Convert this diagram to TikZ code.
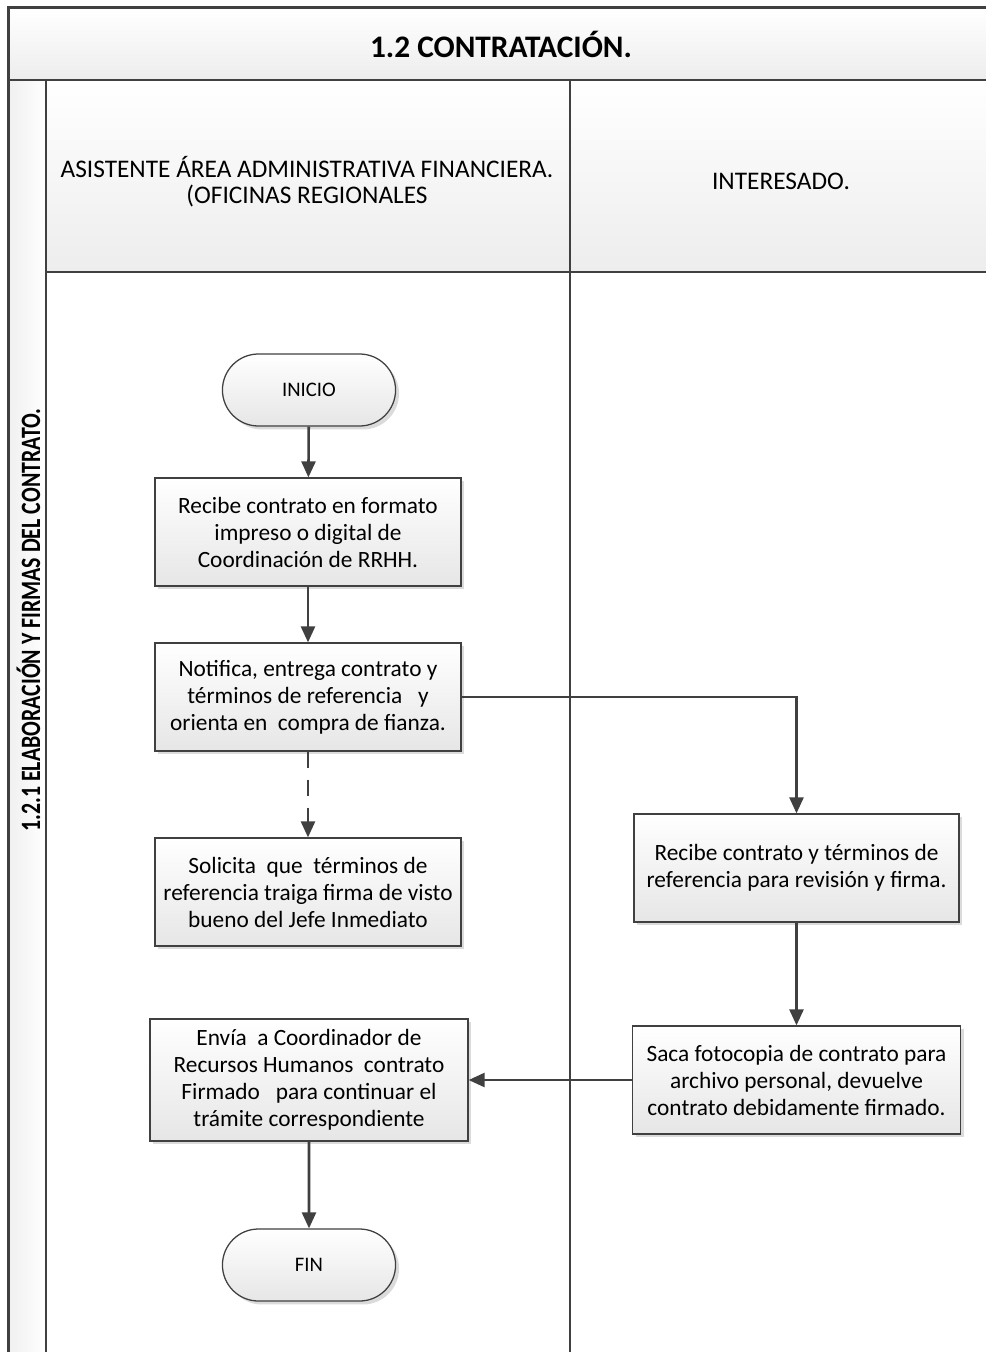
\documentclass[tikz,border=0pt]{standalone}
\usepackage{fontspec}
\setmainfont{Carlito}
\usetikzlibrary{shapes.misc,shadows,arrows.meta}

\definecolor{ink}{HTML}{404040}
\definecolor{boxlo}{HTML}{E6E6E6}
\definecolor{bandlo}{HTML}{EDEDED}

\tikzset{
  x=0.75pt, y=-0.75pt,
  frameline/.style={draw=ink, line width=1.7pt},
  procbox/.style={rectangle, draw=ink, line width=0.95pt,
    top color=white, bottom color=boxlo,
    drop shadow={shadow xshift=2.6pt, shadow yshift=-2.6pt, fill=black!14, opacity=1},
    align=center, font=\fontsize{17.5}{20.25}\selectfont,
    inner sep=2pt, minimum height=81pt},
  termbox/.style={rounded rectangle, draw=ink, line width=0.95pt,
    top color=white, bottom color=boxlo,
    drop shadow={shadow xshift=2.6pt, shadow yshift=-2.6pt, fill=black!14, opacity=1},
    minimum width=136.5pt, minimum height=54pt,
    font=\fontsize{15.5}{17}\selectfont},
  flow/.style={draw=ink, line width=1.9pt,
    -{Triangle[length=12pt,width=10.5pt]}},
  flowdash/.style={flow, dash pattern=on 12pt off 9pt},
}

\begin{document}
\begin{tikzpicture}
\useasboundingbox (0,0) rectangle (985,1352);
\fill[white] (0,0) rectangle (985,1352);

% title band
\shade[top color=white, bottom color=bandlo] (8.5,7.5) rectangle (990,80);
% vertical phase strip
\shade[left color=black!6, right color=white] (8.5,80) rectangle (46,1360);
% lane headers
\shade[top color=white, bottom color=bandlo] (46,80) rectangle (990,272);

% frame lines
\draw[frameline] (990,7.5) -- (8.5,7.5) -- (8.5,1360);
\draw[frameline] (8.5,80) -- (990,80);
\draw[frameline] (46,80) -- (46,1360);
\draw[frameline] (570,80) -- (570,1360);
\draw[frameline] (46,272) -- (990,272);

% texts of the frame
\node[font=\bfseries\fontsize{23.5}{26}\selectfont] (title) at (501,44) {1.2 CONTRATACIÓN.};
\node[rotate=90, font=\bfseries\fontsize{21}{22}\selectfont] (phase) at (28.5,620)
  {\scalebox{0.78}[1]{1.2.1 ELABORACIÓN Y FIRMAS DEL CONTRATO.}};
\node[align=center, font=\fontsize{19}{19.5}\selectfont] (laneA) at (307,182)
  {ASISTENTE ÁREA ADMINISTRATIVA FINANCIERA.\\(OFICINAS REGIONALES};
\node[font=\fontsize{19}{19.5}\selectfont] (laneB) at (781,181) {INTERESADO.};

% flow nodes
\node[termbox] (inicio) at (309,390) {INICIO};
\node[procbox, minimum width=229.5pt] (recibe) at (308,532)
  {Recibe contrato en formato\\impreso o digital de\\Coordinación de RRHH.};
\node[procbox, minimum width=229.5pt] (notifica) at (308,697)
  {Notifica, entrega contrato y\\términos de referencia \ \ y\\orienta en \ compra de fianza.};
\node[procbox, minimum width=229.5pt] (solicita) at (308,892)
  {Solicita \ que \ términos de\\referencia traiga firma de visto\\bueno del Jefe Inmediato};
\node[procbox, minimum width=243.75pt] (revisa) at (796.5,868)
  {Recibe contrato y términos de\\referencia para revisión y firma.};
\node[procbox, minimum width=246pt] (copia) at (796.5,1080)
  {Saca fotocopia de contrato para\\archivo personal, devuelve\\contrato debidamente firmado.};
\node[procbox, minimum width=238.5pt, minimum height=91.5pt] (envia) at (309,1080)
  {Envía \ a Coordinador de\\Recursos Humanos \ contrato\\Firmado \ \ para continuar el\\trámite correspondiente};
\node[termbox] (fin) at (309,1265) {FIN};

% connectors
\draw[flow] (inicio) -- (recibe);
\draw[flow] (recibe) -- (notifica);
\draw[flowdash] (notifica) -- (solicita);
\draw[flow] (notifica.east) -- (revisa.north |- notifica.east) -- (revisa.north);
\draw[flow] (revisa) -- (copia);
\draw[flow] (copia.west) -- (envia.east);
\draw[flow] (envia) -- (fin);
\end{tikzpicture}
\end{document}
